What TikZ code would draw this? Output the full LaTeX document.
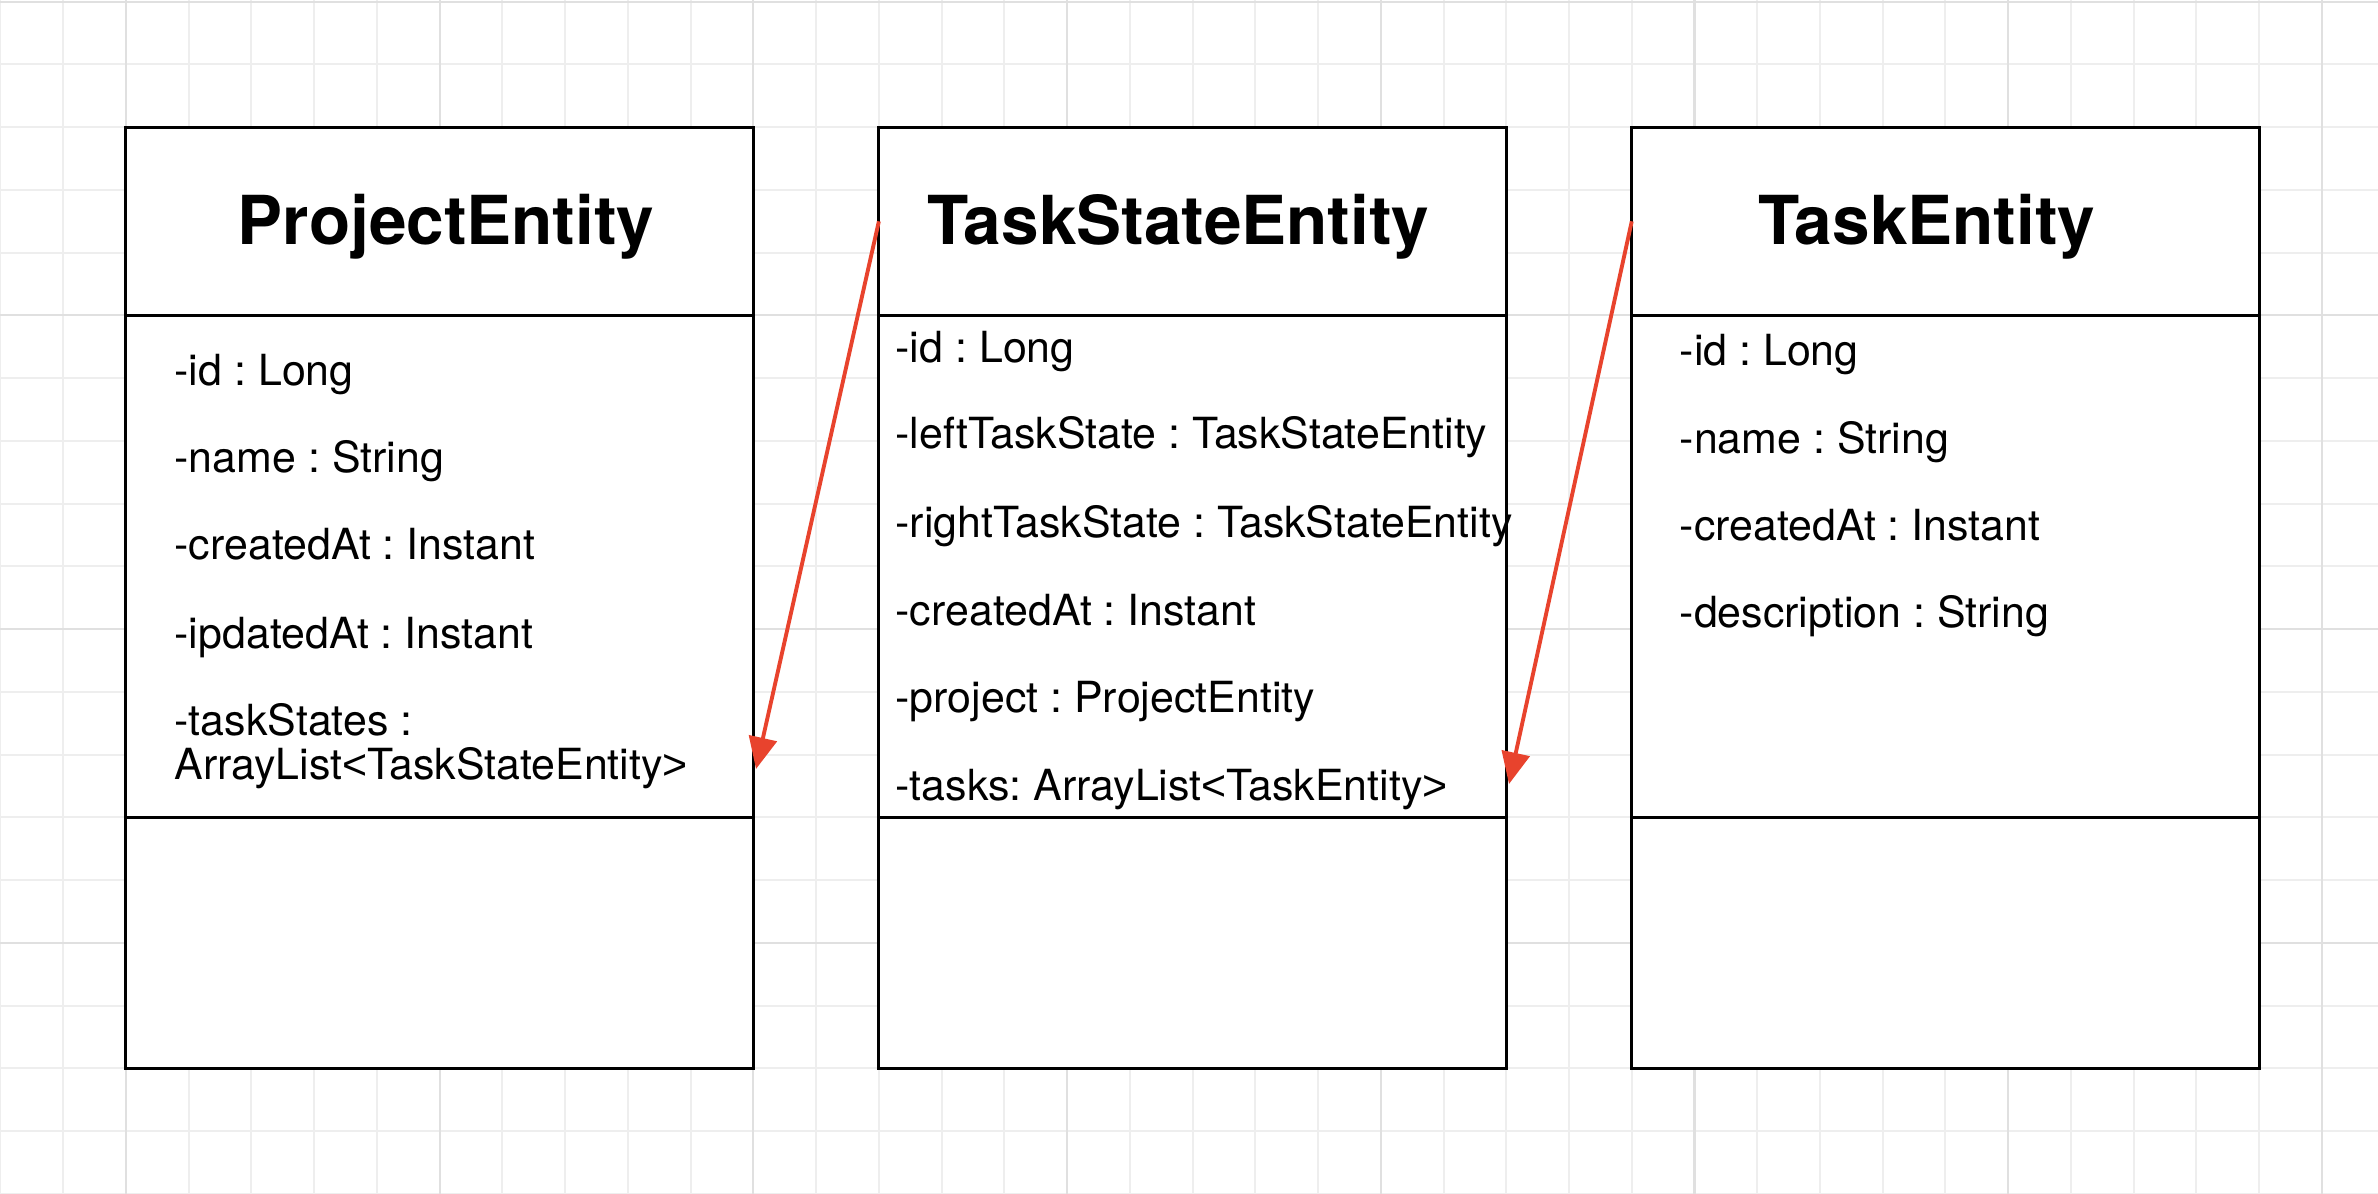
\documentclass[tikz,border=0pt]{standalone}
\usepackage{fontspec}
\setmainfont{TeX Gyre Heros}
\newfontfamily\brk{Liberation Sans}
\newcommand{\lt}{{\brk<}}
\newcommand{\gt}{{\brk>}}
\usetikzlibrary{arrows.meta}
\definecolor{gridminor}{HTML}{EEEEEE}
\definecolor{gridmajor}{HTML}{E0E0E0}
\definecolor{relred}{HTML}{E8432D}
\frenchspacing
\begin{document}
\begin{tikzpicture}[x=0.01cm,y=-0.01cm,
  gridmin/.style={draw=gridminor,line width=0.55pt},
  gridmaj/.style={draw=gridmajor,line width=0.6pt},
  classbox/.style={draw=black,fill=white,line width=0.85pt,rectangle,inner sep=0pt,outer sep=0pt,anchor=north west,minimum width=6.274cm},
  hdr/.style={classbox,minimum height=1.882cm},
  attrs/.style={classbox,minimum height=5.019cm},
  ops/.style={classbox,minimum height=2.51cm},
  title/.style={anchor=base west,inner sep=0pt,font=\fontsize{19.2}{22}\selectfont\bfseries},
  field/.style={anchor=base west,inner sep=0pt,align=left,font=\fontsize{12.2}{12.5}\selectfont},
  rel/.style={draw=relred,line width=1.1pt,-{Triangle[length=9pt,width=8pt]}}
]
\fill[white] (0,0) rectangle (2378,1194);
\useasboundingbox (0,0) rectangle (2378,1194);
% background grid
\foreach \k in {0,...,37}{
  \pgfmathsetmacro\xx{0.5+62.74*\k}
  \draw[gridmin] (\xx,0) -- (\xx,1194);
}
\foreach \j in {0,...,19}{
  \pgfmathsetmacro\yy{1.7+62.74*\j}
  \draw[gridmin] (0,\yy) -- (2378,\yy);
}
\foreach \k in {2,7,12,17,22,27,32,37}{
  \pgfmathsetmacro\xx{0.5+62.74*\k}
  \draw[gridmaj] (\xx,0) -- (\xx,1194);
}
\foreach \j in {0,5,10,15}{
  \pgfmathsetmacro\yy{1.7+62.74*\j}
  \draw[gridmaj] (0,\yy) -- (2378,\yy);
}
% ProjectEntity
\node[hdr] (pH) at (125.98,127.18) {};
\node[attrs] (pA) at (125.98,315.4) {};
\node[ops] (pM) at (125.98,817.3) {};
\node[title] (pT) at (237,245) {ProjectEntity};
\node[field] (p1) at (174,385) {-id : Long};
\node[field] (p2) at (174,472) {-name : String};
\node[field] (p3) at (174,559) {-createdAt : Instant};
\node[field] (p4) at (174,648) {-ipdatedAt : Instant};
\node[field] (p5) at (174,779) {-taskStates :\\ArrayList\lt TaskStateEntity\gt};
% TaskStateEntity
\node[hdr] (sH) at (878.86,127.18) {};
\node[attrs] (sA) at (878.86,315.4) {};
\node[ops] (sM) at (878.86,817.3) {};
\node[title] (sT) at (927,245) {TaskStateEntity};
\node[field] (s1) at (895,363) {-id : Long};
\node[field] (s2) at (895,448) {-leftTaskState : TaskStateEntity};
\node[field] (s3) at (895,537) {-rightTaskState : TaskStateEntity};
\node[field] (s4) at (895,625) {-createdAt : Instant};
\node[field] (s5) at (895,712) {-project : ProjectEntity};
\node[field] (s6) at (895,800) {-tasks: ArrayList\lt TaskEntity\gt};
% TaskEntity
\node[hdr] (tH) at (1631.74,127.18) {};
\node[attrs] (tA) at (1631.74,315.4) {};
\node[ops] (tM) at (1631.74,817.3) {};
\node[title] (tT) at (1758,245) {TaskEntity};
\node[field] (t1) at (1679,365) {-id : Long};
\node[field] (t2) at (1679,453) {-name : String};
\node[field] (t3) at (1679,540) {-createdAt : Instant};
\node[field] (t4) at (1679,627) {-description : String};
% relations
\coordinate (e1) at (756,769);
\coordinate (e2) at (1509,784);
\draw[rel] (sH.west) -- (e1);
\draw[rel] (tH.west) -- (e2);
\end{tikzpicture}
\end{document}
